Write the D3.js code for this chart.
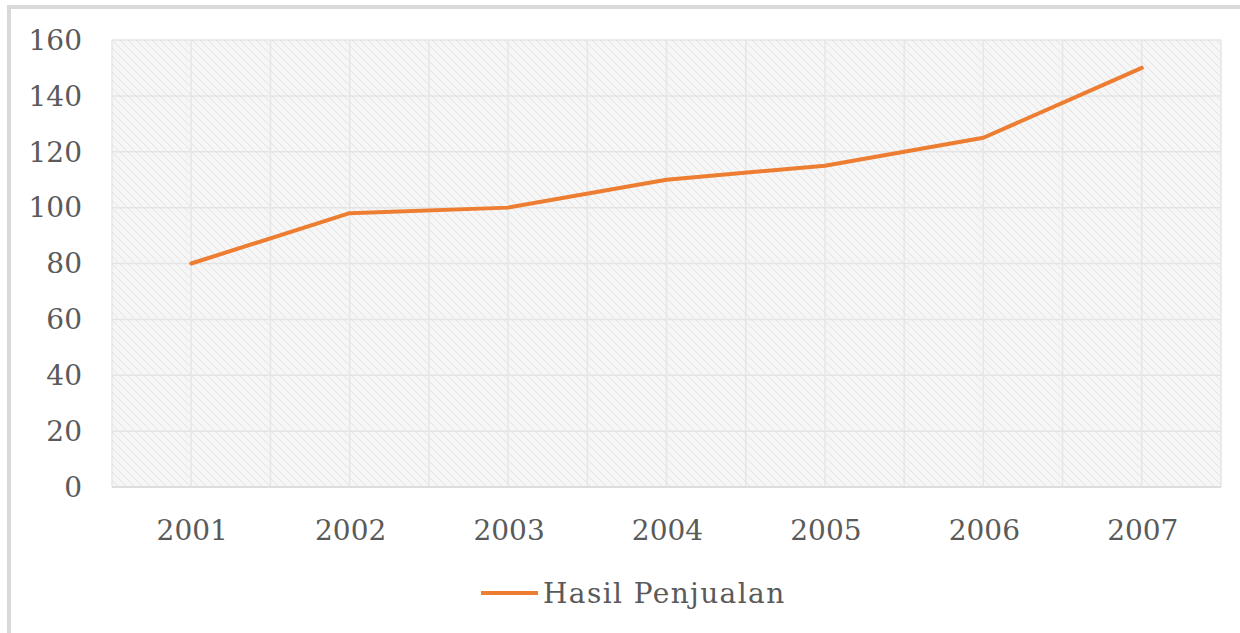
<!DOCTYPE html>
<html>
<head>
<meta charset="utf-8">
<script src="https://cdn.jsdelivr.net/npm/d3@7"></script>
<style>
  body { margin: 0; background: #fff; }
  text { font-family: "DejaVu Serif", serif; fill: #5a5a5a; }
</style>
</head>
<body>
<script>
const years = ["2001", "2002", "2003", "2004", "2005", "2006", "2007"];
const sales = [80, 98, 100, 110, 115, 125, 150];
const yTicks = [0, 20, 40, 60, 80, 100, 120, 140, 160];
const seriesName = "Hasil Penjualan";

const width = 1240;
const height = 633;

const svg = d3.select("body")
    .append("svg")
    .attr("width", width)
    .attr("height", height);

// motif hachuré du fond
const defs = svg.append("defs");
const pat = defs.append("pattern")
    .attr("id", "hatch")
    .attr("patternUnits", "userSpaceOnUse")
    .attr("width", 8)
    .attr("height", 8);
pat.append("rect").attr("width", 8).attr("height", 8).attr("fill", "#f6f6f6");
pat.append("path")
    .attr("d", "M0,0 L8,8 M-4,4 L4,12 M4,-4 L12,4")
    .attr("stroke", "#e2e2e2")
    .attr("stroke-width", 1);

// cadre
svg.append("rect")
    .attr("x", 9).attr("y", 7)
    .attr("width", 1260).attr("height", 660)
    .attr("fill", "none")
    .attr("stroke", "#d9d9d9")
    .attr("stroke-width", 4);

const margin = {left: 112, right: 19, top: 40, bottom: 146};

const x = d3.scaleBand()
    .domain(years)
    .range([margin.left, width - margin.right]);

const y = d3.scaleLinear()
    .domain([0, 160])
    .range([height - margin.bottom, margin.top]);

svg.append("rect")
    .attr("x", margin.left)
    .attr("y", margin.top)
    .attr("width", width - margin.left - margin.right)
    .attr("height", y(0) - margin.top)
    .attr("fill", "url(#hatch)");

// grille horizontale
svg.append("g")
    .selectAll("line")
    .data(yTicks)
    .enter().append("line")
    .attr("x1", margin.left)
    .attr("x2", width - margin.right)
    .attr("y1", d => y(d))
    .attr("y2", d => y(d))
    .attr("stroke", "#e4e4e4")
    .attr("stroke-width", 1.5);

// grille verticale (centres + limites)
const vLines = [];
years.forEach(d => {
    vLines.push(x(d));
    vLines.push(x(d) + x.bandwidth() / 2);
});
vLines.push(x.range()[1]);
svg.append("g")
    .selectAll("line")
    .data(vLines)
    .enter().append("line")
    .attr("x1", d => d)
    .attr("x2", d => d)
    .attr("y1", margin.top)
    .attr("y2", y(0))
    .attr("stroke", "#e6e6e6")
    .attr("stroke-width", 1.5);

// axe x
svg.append("line")
    .attr("x1", margin.left)
    .attr("x2", width - margin.right)
    .attr("y1", y(0))
    .attr("y2", y(0))
    .attr("stroke", "#d9d9d9")
    .attr("stroke-width", 1.5);

// étiquettes
svg.append("g")
    .selectAll("text")
    .data(yTicks)
    .enter().append("text")
    .attr("x", 82)
    .attr("y", d => y(d))
    .attr("dy", "0.35em")
    .attr("text-anchor", "end")
    .style("font-size", "28px")
    .text(d => d);

svg.append("g")
    .selectAll("text")
    .data(years)
    .enter().append("text")
    .attr("x", d => x(d) + x.bandwidth() / 2 + 1)
    .attr("y", 530)
    .attr("dy", "0.35em")
    .attr("text-anchor", "middle")
    .style("font-size", "28px")
    .text(d => d);

// courbe
const line = d3.line()
    .x((d, i) => x(years[i]) + x.bandwidth() / 2)
    .y(d => y(d));

svg.append("path")
    .datum(sales)
    .attr("d", line)
    .attr("fill", "none")
    .attr("stroke", "#ed7d31")
    .attr("stroke-width", 4)
    .attr("stroke-linejoin", "round")
    .attr("stroke-linecap", "round");

// légende
svg.append("line")
    .attr("x1", 481).attr("x2", 538)
    .attr("y1", 593).attr("y2", 593)
    .attr("stroke", "#ed7d31")
    .attr("stroke-width", 4);

svg.append("text")
    .attr("x", 543)
    .attr("y", 593)
    .attr("dy", "0.35em")
    .style("font-size", "28px")
    .style("letter-spacing", "1.4px")
    .text(seriesName);
</script>
</body>
</html>
